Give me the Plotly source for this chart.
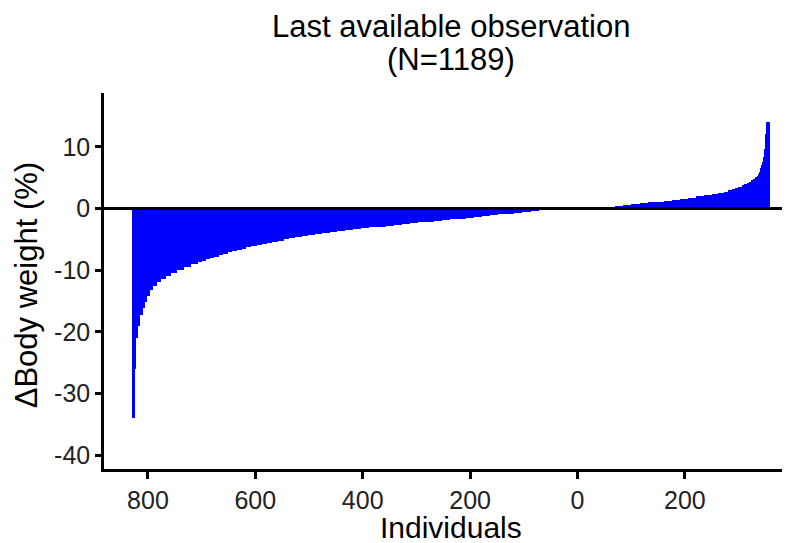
import plotly.graph_objects as go

# ---- data: individuals sorted by change in body weight (%) ----
# each entry = a run of consecutive individuals with (about) the same change
loss_change = [-34.0, -26.0, -21.0, -19.0, -17.3, -16.2, -15.2, -14.2, -13.2, -12.5,
               -11.9, -11.4, -10.9, -10.4, -9.9, -9.5, -9.0,
               -8.7, -8.5, -8.25, -8.0, -7.85, -7.55, -7.4, -7.1, -6.95, -6.65, -6.5, -6.3,
               -6.1, -5.9, -5.75, -5.55, -5.4, -5.2, -5.0, -4.8, -4.65, -4.45, -4.3, -4.1,
               -3.95, -3.75,
               -3.62, -3.48, -3.33, -3.18, -3.05, -2.93, -2.81, -2.69, -2.55, -2.4,
               -2.26, -2.12, -1.99, -1.87, -1.75, -1.63, -1.5, -1.37, -1.23, -1.1,
               -0.96, -0.83, -0.7, -0.56, -0.42, -0.26, -0.12, -0.07, -0.03]
loss_n = [6, 3, 3, 4, 5, 4, 4, 5, 6, 7,
          8, 9, 10, 11, 12, 13, 14,
          8, 7, 8, 7, 8, 8, 9, 8, 9, 9, 9, 9,
          10, 9, 10, 10, 11, 10, 11, 11, 12, 12, 13, 13,
          14, 14,
          15, 15, 15, 15, 15, 15, 15, 15, 15, 15,
          15, 15, 15, 15, 15, 15, 15, 15, 15, 15,
          15, 15, 15, 15, 15, 15, 15, 15, 28]
gain_change = [0.05, 0.1, 0.25, 0.45, 0.6, 0.75, 0.85, 1.0, 1.1, 1.25,
               1.4, 1.6, 1.75, 1.95, 2.15, 2.35, 2.55, 2.75, 2.95, 3.15,
               3.35, 3.55, 3.75, 3.95, 4.15, 4.35, 4.6, 4.85, 5.05, 5.3,
               5.55, 5.9, 6.2, 6.5, 6.8, 7.1, 7.5, 7.9, 8.4, 9.0,
               9.7, 10.6, 12.0, 14.1]
gain_n = [30, 25, 15, 15, 15, 15, 15, 15, 15, 15,
          15, 15, 15, 15, 15, 12, 10, 8, 7, 6,
          6, 6, 5, 5, 4, 4, 4, 4, 3, 2,
          2, 2, 1, 1, 1, 1, 1, 1, 1, 1,
          1, 1, 1, 7]

x_tick_vals = [-800, -600, -400, -200, 0, 200]
x_tick_text = ["800", "600", "400", "200", "0", "200"]
y_tick_vals = [-40, -30, -20, -10, 0, 10]
y_tick_text = ["-40", "-30", "-20", "-10", "0", "10"]

assert len(loss_change) == len(loss_n) and len(gain_change) == len(gain_n)
title_line1 = "Last available observation"
title_line2 = "(N=%d)" % (sum(loss_n) + sum(gain_n))

# ---- build bar positions from the counts ----
values = loss_change + gain_change
counts = loss_n + gain_n
centers, widths = [], []
start = -(sum(loss_n) - 1)
for n in counts:
    centers.append(start + (n - 1) / 2.0)
    widths.append(n)
    start += n

FONT = "Liberation Sans, Arial, Helvetica, sans-serif"
OFF = 8  # page body margin
W, H = 790 - OFF, 543 - OFF
L, R, T, B = 96, 0, 85, 74
PW, PH = W - L - R, H - T - B


def px_x(px):
    return (px - OFF - L) / PW


def px_y(py):
    return (H - B - (py - OFF)) / PH


fig = go.Figure()
fig.add_trace(go.Bar(
    x=centers, y=values, width=widths,
    marker=dict(color="#0000FF", line=dict(width=0)),
    hoverinfo="skip", showlegend=False,
))

fig.add_shape(type="line", xref="paper", x0=0, x1=1, yref="y", y0=0, y1=0,
              line=dict(color="black", width=3), layer="above")

fig.update_layout(
    width=W, height=H,
    margin=dict(l=L, r=R, t=T, b=B, pad=0),
    paper_bgcolor="white", plot_bgcolor="white",
    bargap=0,
    font=dict(family=FONT, color="#222222"),
    xaxis=dict(
        range=[-881.8, 395.7], showgrid=False, zeroline=False,
        showline=True, linecolor="black", linewidth=2.5,
        ticks="outside", ticklen=7, tickwidth=2.5, tickcolor="black",
        tickvals=x_tick_vals, ticktext=x_tick_text,
        tickfont=dict(size=25, color="#222222", family=FONT),
        fixedrange=True,
    ),
    yaxis=dict(
        range=[-42.22, 18.72], showgrid=False, zeroline=False,
        showline=True, linecolor="black", linewidth=2.5,
        ticks="outside", ticklen=6, tickwidth=2.5, tickcolor="black",
        tickvals=y_tick_vals, ticktext=y_tick_text,
        tickfont=dict(size=25, color="#222222", family=FONT),
        fixedrange=True,
    ),
    annotations=[
        dict(text=title_line1, xref="paper", yref="paper",
             x=px_x(451), y=px_y(26.5), xanchor="center", yanchor="middle",
             showarrow=False, font=dict(size=31, color="black", family=FONT)),
        dict(text=title_line2, xref="paper", yref="paper",
             x=px_x(451), y=px_y(59.5), xanchor="center", yanchor="middle",
             showarrow=False, font=dict(size=31, color="black", family=FONT)),
        dict(text="Individuals", xref="paper", yref="paper",
             x=px_x(451), y=px_y(527), xanchor="center", yanchor="middle",
             showarrow=False, font=dict(size=30, color="black", family=FONT)),
        dict(text="\u0394Body weight (%)", xref="paper", yref="paper",
             x=px_x(26.3), y=px_y(285), xanchor="center", yanchor="middle",
             textangle=-90, showarrow=False,
             font=dict(size=31, color="black", family=FONT)),
    ],
)

fig.write_html("out.html")
